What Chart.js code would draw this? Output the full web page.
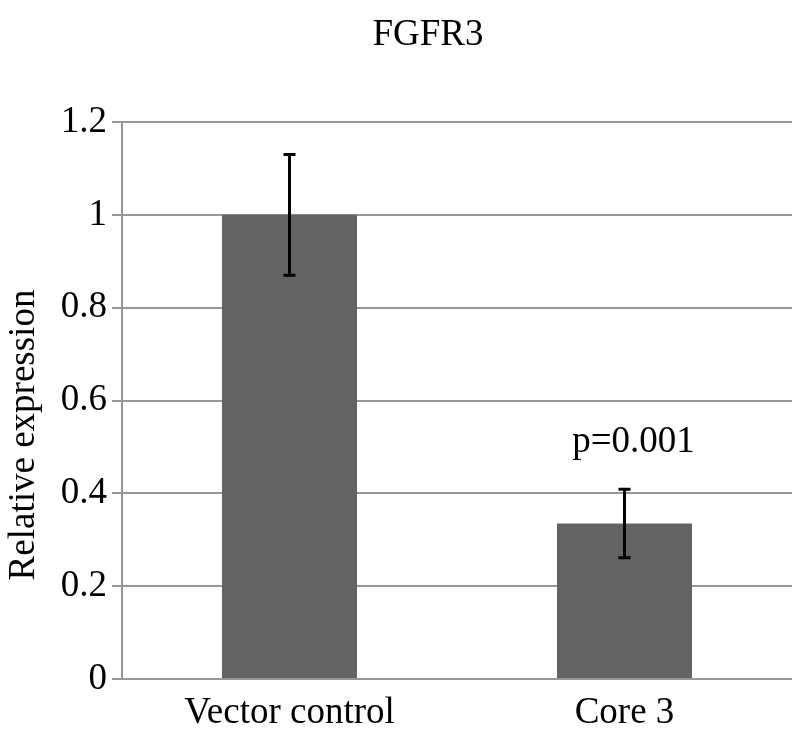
<!DOCTYPE html>
<html>
<head>
<meta charset="utf-8">
<script src="https://cdn.jsdelivr.net/npm/chart.js@4"></script>
<style>
    html, body { margin: 0; padding: 0; background: #fff; }
    #wrap { width: 792px; height: 738px; }
</style>
</head>
<body>
<div id="wrap"><canvas id="barChart" width="792" height="738"></canvas></div>
<script>
const categories = ['Vector control', 'Core 3'];
const expression = [1.0, 0.335];
const errors = [0.13, 0.074];
const pLabels = [null, 'p=0.001'];
const pLabelValue = 0.51;
const yTicks = [0, 0.2, 0.4, 0.6, 0.8, 1, 1.2];

const FONT = '"Liberation Serif", "Times New Roman", serif';
const GRID = 'rgb(150, 150, 150)';

// error bars, title, axis title and p-value note
const annotations = {
    id: 'annotations',
    afterDatasetsDraw(chart) {
        const ctx = chart.ctx;
        const x = chart.scales.x;
        const y = chart.scales.y;
        ctx.save();
        ctx.strokeStyle = '#000';
        ctx.lineWidth = 3;
        expression.forEach((v, i) => {
            const cx = x.getPixelForValue(i);
            const top = y.getPixelForValue(v + errors[i]);
            const bot = y.getPixelForValue(v - errors[i]);
            ctx.beginPath();
            ctx.moveTo(cx, top); ctx.lineTo(cx, bot);
            ctx.moveTo(cx - 6, top); ctx.lineTo(cx + 6, top);
            ctx.moveTo(cx - 6, bot); ctx.lineTo(cx + 6, bot);
            ctx.stroke();
        });

        ctx.fillStyle = '#000';
        ctx.font = '37px ' + FONT;
        ctx.textAlign = 'center';
        ctx.textBaseline = 'middle';
        pLabels.forEach((t, i) => {
            if (t) ctx.fillText(t, x.getPixelForValue(i) + 9, y.getPixelForValue(pLabelValue));
        });

        ctx.fillText('FGFR3', 428, 35);

        ctx.translate(24, 435);
        ctx.rotate(-Math.PI / 2);
        ctx.fillText('Relative expression', 0, 0);
        ctx.restore();
    }
};

const ctx = document.getElementById('barChart').getContext('2d');
const myBarChart = new Chart(ctx, {
    type: 'bar',
    data: {
        labels: categories,
        datasets: [{
            data: expression,
            backgroundColor: 'rgb(99, 99, 99)',
            borderWidth: 0,
            barPercentage: 0.403,
            categoryPercentage: 1.0
        }]
    },
    options: {
        responsive: false,
        animation: false,
        layout: { padding: { top: 122, right: 0, left: 0, bottom: 0 } },
        plugins: {
            legend: { display: false },
            tooltip: { enabled: false }
        },
        scales: {
            x: {
                grid: { display: false, drawTicks: false },
                border: { display: false },
                ticks: {
                    color: '#000',
                    font: { family: FONT, size: 37 },
                    padding: 12
                },
                afterFit: scale => { scale.height = 59; }
            },
            y: {
                min: 0,
                max: 1.2,
                afterBuildTicks: scale => { scale.ticks = yTicks.map(v => ({ value: v })); },
                grid: { color: GRID, lineWidth: 2, tickLength: 10 },
                border: { display: true, color: GRID, width: 2 },
                ticks: {
                    color: '#000',
                    font: { family: FONT, size: 37 },
                    padding: 5,
                    callback: v => String(v)
                },
                afterFit: scale => { scale.width = 122; }
            }
        }
    },
    plugins: [annotations]
});
</script>
</body>
</html>
